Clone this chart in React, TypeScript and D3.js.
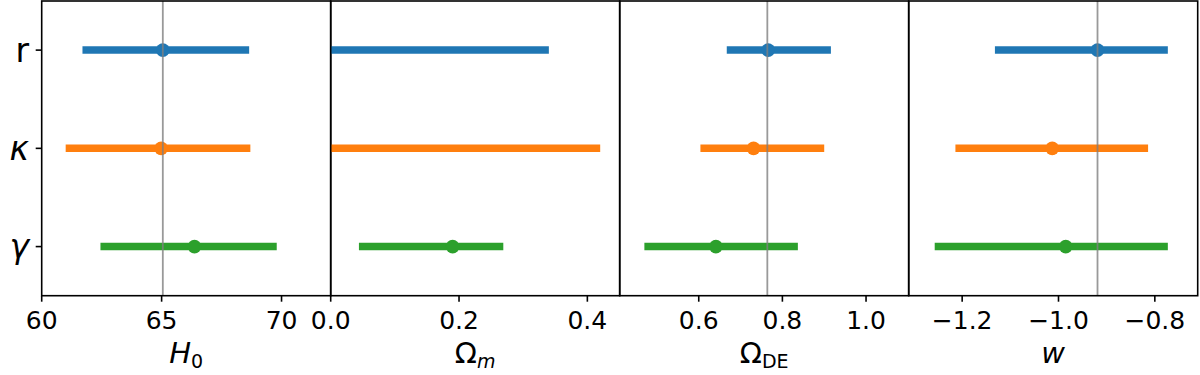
import React from 'react';
import * as d3 from 'd3';

const rowLabels = ["r", "κ", "γ"];
const colors = ["#1f77b4", "#ff7f0e", "#2ca02c"];

// each panel: lower / upper / central value per row (r, kappa, gamma)
const h0Low = [61.7, 61.0, 62.45];
const h0High = [68.65, 68.7, 69.8];
const h0Mid = [65.05, 64.98, 66.37];

const omLow = [-0.1, -0.1, 0.044];
const omHigh = [0.34, 0.42, 0.269];
const omMid = [null, null, 0.19];

const odeLow = [0.667, 0.604, 0.47];
const odeHigh = [0.916, 0.9, 0.837];
const odeMid = [0.766, 0.731, 0.641];

const wLow = [-1.132, -1.214, -1.257];
const wHigh = [-0.773, -0.814, -0.773];
const wMid = [-0.919, -1.013, -0.985];

const truths = [65.05, null, 0.764, -0.919];
const domains = [[60, 72.05], [0, 0.4504], [0.411, 1.102], [-1.311, -0.711]];
const tickValues = [[60, 65, 70], [0, 0.2, 0.4], [0.6, 0.8, 1.0], [-1.2, -1.0, -0.8]];
const tickLabels = [["60", "65", "70"], ["0.0", "0.2", "0.4"], ["0.6", "0.8", "1.0"], ["−1.2", "−1.0", "−0.8"]];

const panels = [
  { low: h0Low, high: h0High, mid: h0Mid },
  { low: omLow, high: omHigh, mid: omMid },
  { low: odeLow, high: odeHigh, mid: odeMid },
  { low: wLow, high: wHigh, mid: wMid },
];

const width = 1200;
const height = 375;
const margin = { top: 1, left: 41.7, bottom: 295.7 };
const panelW = 289;
const font = "DejaVu Sans, sans-serif";

function AxisLabel({ i, cx }: { i: number; cx: number }) {
  const y = 363;
  if (i === 0) {
    return (
      <text x={cx} y={y} textAnchor="middle" fontSize={29} fontFamily={font}>
        <tspan fontStyle="italic">H</tspan>
        <tspan fontSize={19} dy={5}>0</tspan>
      </text>
    );
  }
  if (i === 1) {
    return (
      <text x={cx} y={y} textAnchor="middle" fontSize={29} fontFamily={font}>
        <tspan>Ω</tspan>
        <tspan fontSize={19} dy={5} fontStyle="italic">m</tspan>
      </text>
    );
  }
  if (i === 2) {
    return (
      <text x={cx} y={y} textAnchor="middle" fontSize={29} fontFamily={font}>
        <tspan>Ω</tspan>
        <tspan fontSize={19} dy={5}>DE</tspan>
      </text>
    );
  }
  return (
    <text x={cx} y={y} textAnchor="middle" fontSize={29} fontFamily={font} fontStyle="italic">w</text>
  );
}

export default function App() {
  const y = d3.scaleLinear().domain([-0.5, 2.5]).range([margin.top, margin.bottom]);

  return (
    <svg width={width} height={height} style={{ position: "absolute", left: 0, top: 0, background: "white" }}>
      <defs>
        {panels.map((_, i) => (
          <clipPath id={`clip${i}`} key={i}>
            <rect x={margin.left + i * panelW} y={margin.top} width={panelW} height={margin.bottom - margin.top} />
          </clipPath>
        ))}
      </defs>
      {panels.map((p, i) => {
        const x0 = margin.left + i * panelW;
        const x = d3.scaleLinear().domain(domains[i]).range([x0, x0 + panelW]);
        return (
          <g key={i}>
            <g clipPath={`url(#clip${i})`}>
              {rowLabels.map((_, j) => (
                <g key={j}>
                  <line x1={x(p.low[j])} x2={x(p.high[j])} y1={y(j)} y2={y(j)} stroke={colors[j]} strokeWidth={7.5} />
                  {p.mid[j] !== null && (
                    <circle cx={x(p.mid[j] as number)} cy={y(j)} r={6.8} fill={colors[j]} />
                  )}
                </g>
              ))}
              {truths[i] !== null && (
                <line x1={x(truths[i] as number)} x2={x(truths[i] as number)} y1={margin.top} y2={margin.bottom}
                  stroke="gray" strokeOpacity={0.8} strokeWidth={1.8} />
              )}
            </g>
            <rect x={x0} y={margin.top} width={panelW} height={margin.bottom - margin.top}
              fill="none" stroke="black" strokeWidth={1.6} />
            {tickValues[i].map((t, k) => (
              <g key={k}>
                <line x1={x(t)} x2={x(t)} y1={margin.bottom} y2={margin.bottom + 6} stroke="black" strokeWidth={1.6} />
                <text x={x(t)} y={329} textAnchor="middle" fontSize={25} fontFamily={font}>{tickLabels[i][k]}</text>
              </g>
            ))}
            <AxisLabel i={i} cx={x0 + panelW / 2} />
          </g>
        );
      })}
      {rowLabels.map((lab, j) => (
        <g key={j}>
          <line x1={margin.left - 6} x2={margin.left} y1={y(j)} y2={y(j)} stroke="black" strokeWidth={1.6} />
          <text x={29} y={y(j)} dy="0.35em" textAnchor="end" fontSize={33} fontFamily={font}
            fontStyle={j === 0 ? "normal" : "italic"}>{lab}</text>
        </g>
      ))}
    </svg>
  );
}
